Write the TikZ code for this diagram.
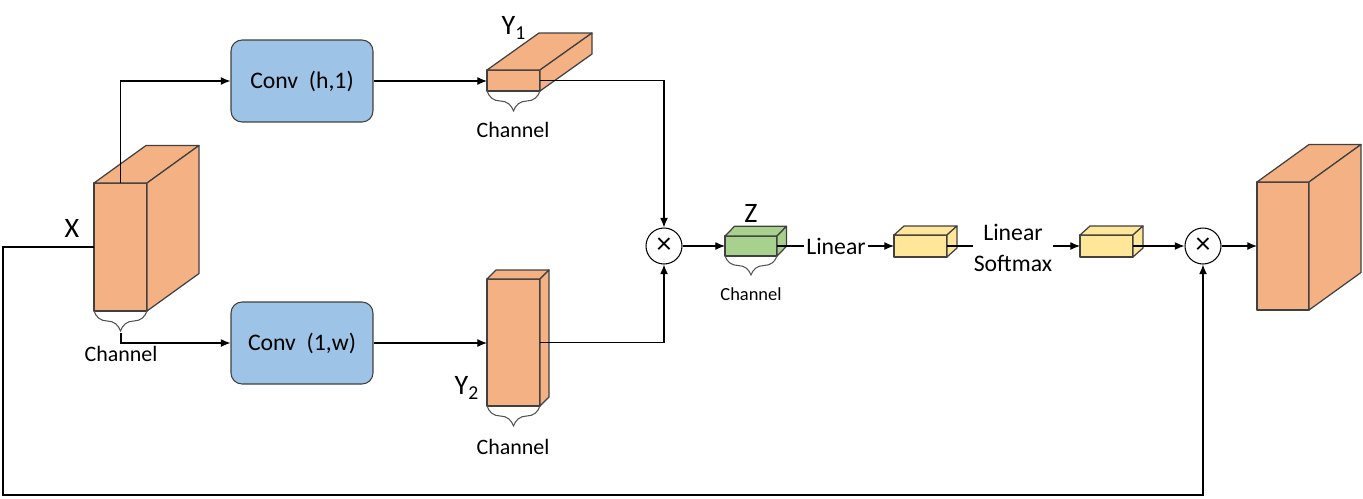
\documentclass[tikz,border=0pt]{standalone}
\usepackage{fontspec}
\setmainfont{Carlito}
\usetikzlibrary{arrows.meta,decorations.pathreplacing}

\definecolor{orangef}{HTML}{F4B183}
\definecolor{bluef}{HTML}{9DC3E6}
\definecolor{greenf}{HTML}{A9D18E}
\definecolor{yellowf}{HTML}{FFE699}
\definecolor{edge}{HTML}{404040}

\tikzset{
  face/.style={draw=edge, fill=#1, line width=0.7pt, line join=round},
  conv/.style={draw=edge, fill=bluef, rounded corners=0.22cm, minimum width=2.84cm,
    minimum height=1.64cm, font=\fontsize{13.5}{16}\selectfont},
  mult/.style={draw, circle, fill=white, minimum size=0.72cm, inner sep=0pt,
    font=\fontsize{17}{18}\selectfont},
  lbl/.style={font=\fontsize{16}{18}\selectfont},
  chan/.style={font=\fontsize{12.5}{15}\selectfont},
  txt/.style={inner sep=1pt, align=center, font=\fontsize{13.5}{17.5}\selectfont},
  brc/.style={draw=edge!90, line width=0.6pt, decorate, decoration={brace, mirror, amplitude=0.4cm}},
}

% name, x, y (front top left), width, height, dx, dy, fill
\newcommand{\cuboidblock}[8]{%
  \node[face=#8, anchor=north west, inner sep=0pt, outer sep=0pt,
    minimum width=#4*0.02cm, minimum height=#5*0.02cm] (#1) at (#2,#3) {};
  \filldraw[face=#8] (#1.north west) -- ++(#6,#7) -- ++(#4,0) -- (#1.north east) -- cycle;
  \filldraw[face=#8] (#1.north east) -- ++(#6,#7) -- ++(0,#5) -- (#1.south east) -- cycle;
}

\begin{document}
\begin{tikzpicture}[x=0.02cm, y=-0.02cm, >={Latex[length=5.5pt,width=4.5pt]}, line width=0.6pt]
  \useasboundingbox (0,0) rectangle (1363,498);

  % Input X
  \cuboidblock{X}{94}{183}{53}{128}{52}{-37.5}{orangef}
  \node[lbl] (xl) at (72,228) {X};
  \draw[brc] (X.south west) -- (X.south east);
  \coordinate (xb) at (121,333);
  \node[chan] (xc) at (121,354) {Channel};

  % Convolutions
  \node[conv] (c1) at (302,81) {Conv\ \ (h,1)};
  \node[conv] (c2) at (302,343) {Conv\ \ (1,w)};

  % Y1
  \cuboidblock{Y1}{487}{70}{53}{21}{52}{-37}{orangef}
  \node[lbl] (y1l) at (514,28) {Y\textsubscript{1}};
  \draw[brc] (Y1.south west) -- (Y1.south east);
  \node[chan] (y1c) at (513,130) {Channel};

  % Y2
  \cuboidblock{Y2}{487}{279}{53}{127}{9}{-9}{orangef}
  \node[lbl] (y2l) at (467,388) {Y\textsubscript{2}};
  \draw[brc] (Y2.south west) -- (Y2.south east);
  \node[chan] (y2c) at (513,447) {Channel};

  % Z
  \node[mult] (m1) at (664,246) {×};
  \cuboidblock{Z}{725}{236}{52}{20}{9.5}{-9.7}{greenf}
  \node[lbl] (zl) at (751,213) {Z};
  \draw[brc, decoration={amplitude=0.38cm}] (Z.south west) -- (Z.south east);
  \node[font=\fontsize{10.5}{12}\selectfont] (zc) at (751,294) {Channel};

  % Attention
  \node[txt] (lin1) at (836,246) {Linear};
  \cuboidblock{ya}{894}{235}{53}{22}{10}{-9}{yellowf}
  \node[txt, inner sep=0pt] (lin2) at (1013,248) {Linear\\Softmax};
  \cuboidblock{yb}{1080}{235}{53}{22}{10}{-9}{yellowf}
  \node[mult] (m2) at (1203,246) {×};

  % Output
  \cuboidblock{out}{1257}{182}{52}{128}{52}{-37.5}{orangef}

  % Connections
  \coordinate (lb) at (3,495);
  \draw[->] (X.north) |- (c1.west);
  \draw[->] (xb) |- (c2.west);
  \draw[->] (c1.east) -- (c1.east -| Y1.west);
  \draw[->] (c2.east) -- (c2.east -| Y2.west);
  \draw[->] (Y1.east) -| (m1.north);
  \draw[->] (Y2.east) -| (m1.south);
  \draw[->] (m1.east) -- (m1.east -| Z.west);
  \draw (Z.east) -- (Z.east -| lin1.west);
  \draw[->] (lin1.east) -- (lin1.east -| ya.west);
  \draw (ya.east) -- (ya.east -| lin2.west);
  \draw[->] (yb.west -| lin2.east) -- (yb.west);
  \draw[->] (yb.east) -- (yb.east -| m2.west);
  \draw[->] (m2.east) -- (m2.east -| out.west);
  \draw[->] (X.west) -| (lb) -| (m2.south);
\end{tikzpicture}
\end{document}
